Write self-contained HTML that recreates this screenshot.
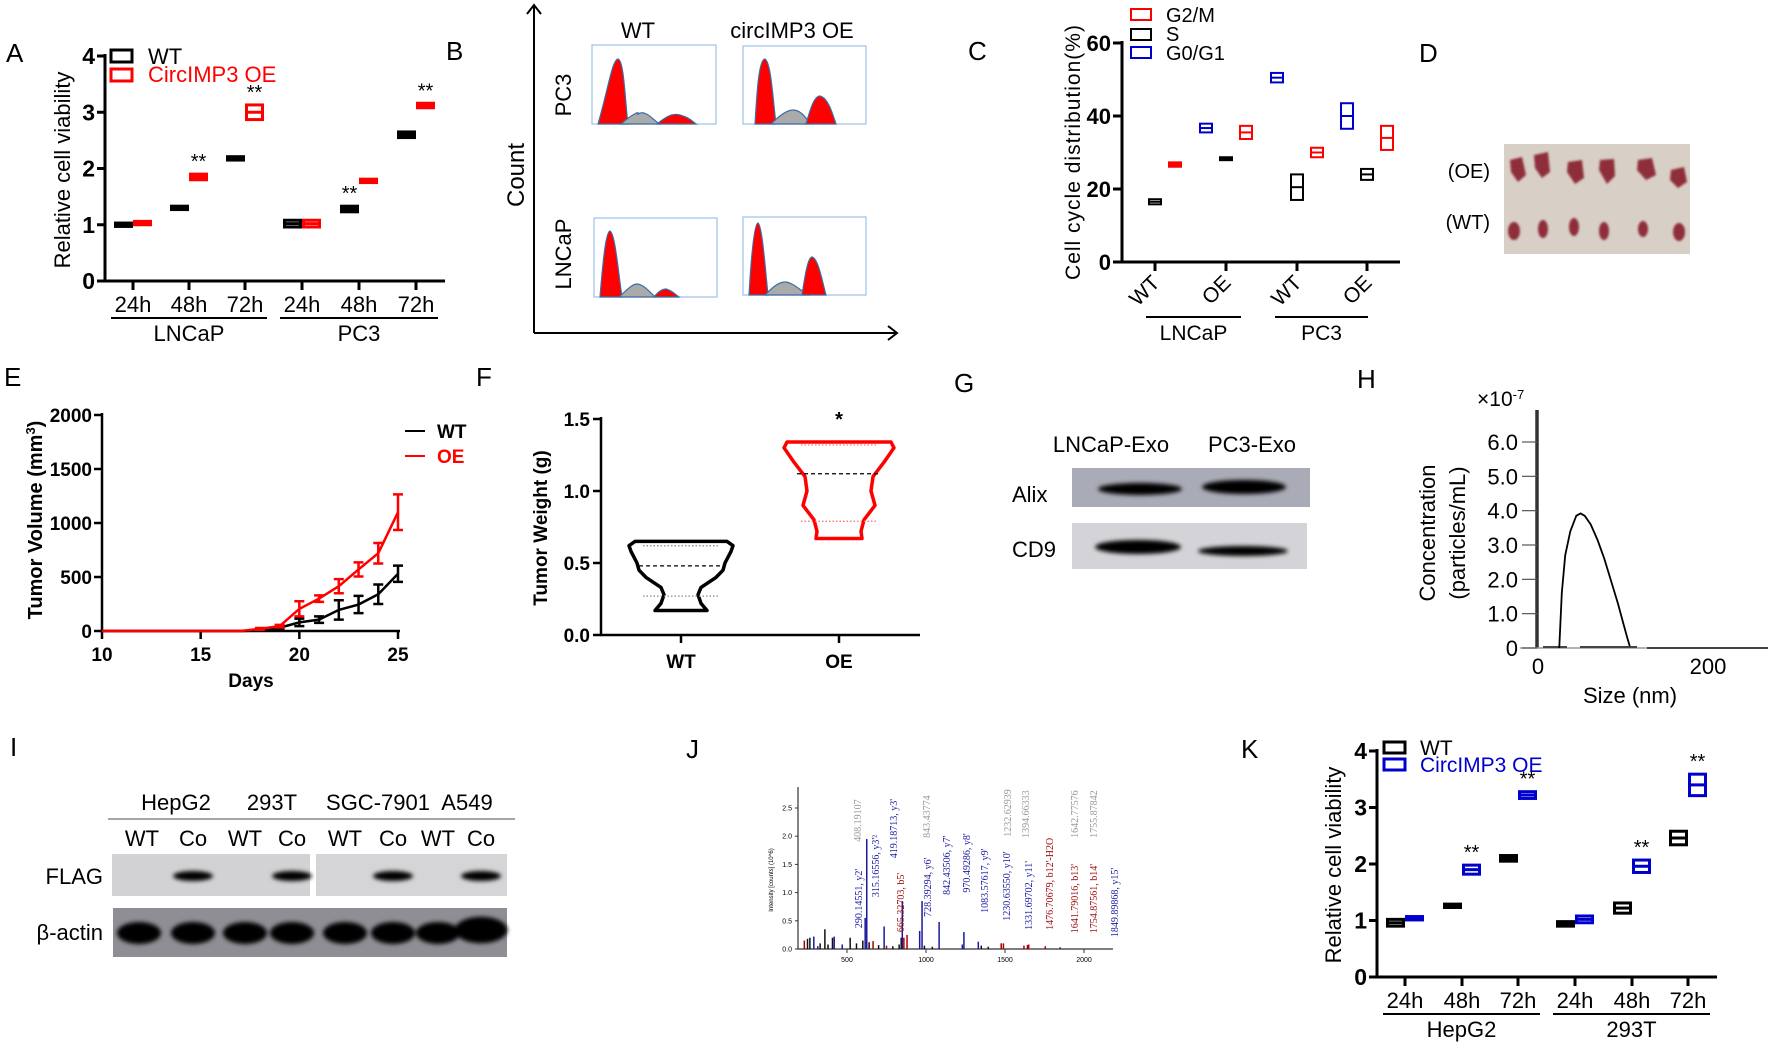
<!DOCTYPE html>
<html><head><meta charset="utf-8"><style>
html,body{margin:0;padding:0;background:#fff;}
svg{display:block;font-family:"Liberation Sans",Arial,sans-serif;}
</style></head><body>
<svg id="fig" width="1772" height="1043" viewBox="0 0 1772 1043" xmlns="http://www.w3.org/2000/svg">
<defs>
<filter id="blur2" x="-20%" y="-50%" width="140%" height="200%"><feGaussianBlur stdDeviation="2.2"/></filter>
<filter id="blur1"><feGaussianBlur stdDeviation="1"/></filter>
</defs>
<g font-size="26" fill="#000">
<text x="6" y="62">A</text>
<text x="446" y="60">B</text>
<text x="968" y="60">C</text>
<text x="1419" y="62">D</text>
<text x="4" y="386">E</text>
<text x="476" y="386">F</text>
<text x="954" y="392">G</text>
<text x="1357" y="388">H</text>
<text x="10" y="756">I</text>
<text x="686" y="758">J</text>
<text x="1241" y="758">K</text>
</g>

<g>
<text transform="translate(70,170) rotate(-90)" text-anchor="middle" font-size="22">Relative cell viability</text>
<g>
<rect x="111" y="50" width="21" height="12" fill="none" stroke="#000" stroke-width="3"/>
<text x="148" y="64" font-size="22">WT</text>
<rect x="111" y="69" width="21" height="12" fill="none" stroke="#f00" stroke-width="3"/>
<text x="148" y="82" font-size="22" fill="#f00">CircIMP3 OE</text>
</g>
<g id="aPlot"></g>
</g>

<g>
<path d="M534,333 V6 M527,14 L534,5 L541,14 M534,333 H897 M888,326 L897,333 L888,340" fill="none" stroke="#000" stroke-width="2"/>
<text transform="translate(524,175) rotate(-90)" text-anchor="middle" font-size="24">Count</text>
<text x="638" y="38" text-anchor="middle" font-size="22">WT</text>
<text x="792" y="38" text-anchor="middle" font-size="22">circIMP3 OE</text>
<text transform="translate(571,95) rotate(-90)" text-anchor="middle" font-size="22">PC3</text>
<text transform="translate(571,254) rotate(-90)" text-anchor="middle" font-size="22">LNCaP</text>
<g stroke="#3a6ea5" stroke-width="1.2">
<rect x="592" y="45" width="124" height="79" fill="none" stroke="#9cc2e5"/>
<path d="M598,124 C608,90 612,60 618,59 C624,60 625,100 628,124 Z" fill="#f00"/>
<path d="M621,124 C630,116 640,110 638,114 C644,110 650,116 659,124 Z" fill="#aaa"/>
<path d="M657,124 C668,115 675,112 683,116 C690,118 693,122 696,124 Z" fill="#f00"/>
<rect x="743" y="46" width="123" height="78" fill="none" stroke="#9cc2e5"/>
<path d="M755,124 C757,90 759,59 765,59 C771,62 773,100 776,124 Z" fill="#f00"/>
<path d="M771,124 C780,115 788,110 793,110 C800,110 805,116 810,124 Z" fill="#aaa"/>
<path d="M806,124 C810,110 814,96 820,96 C828,98 832,112 836,124 Z" fill="#f00"/>
<rect x="594" y="218" width="123" height="79" fill="none" stroke="#9cc2e5"/>
<path d="M600,297 C603,260 606,231 610,231 C615,233 618,270 622,297 Z" fill="#f00"/>
<path d="M619,297 C627,290 632,284 637,284 C643,284 650,292 655,297 Z" fill="#aaa"/>
<path d="M654,297 C658,292 662,289 666,289 C671,290 675,294 679,297 Z" fill="#f00"/>
<rect x="743" y="217" width="123" height="78" fill="none" stroke="#9cc2e5"/>
<path d="M749,295 C751,260 754,223 758,223 C762,225 765,265 768,295 Z" fill="#f00"/>
<path d="M765,295 C772,288 778,282 785,282 C792,282 800,290 808,295 Z" fill="#aaa"/>
<path d="M802,295 C805,275 808,257 812,257 C818,258 822,280 826,295 Z" fill="#f00"/>
</g>
</g>

<g>
<text transform="translate(1080,152) rotate(-90)" text-anchor="middle" font-size="21" letter-spacing="1">Cell cycle distribution(%)</text>
<g>
<rect x="1131" y="9" width="20" height="11" fill="none" stroke="#f00" stroke-width="2"/>
<text x="1166" y="22" font-size="20">G2/M</text>
<rect x="1131" y="29" width="20" height="11" fill="none" stroke="#000" stroke-width="2"/>
<text x="1166" y="41" font-size="20">S</text>
<rect x="1131" y="47" width="20" height="11" fill="none" stroke="#00c" stroke-width="2"/>
<text x="1166" y="60" font-size="20">G0/G1</text>
</g>
<g id="cPlot"></g>
</g>

<g>
<text x="1490" y="178" text-anchor="end" font-size="20">(OE)</text>
<text x="1490" y="229" text-anchor="end" font-size="20">(WT)</text>
<rect x="1504" y="144" width="186" height="110" fill="#d8cfc6"/>
<g fill="#8f2f3a" filter="url(#blur1)">
<path d="M1510,160 L1522,157 L1526,175 L1518,182 L1511,172 Z"/>
<path d="M1534,155 L1548,152 L1550,172 L1542,178 L1535,168 Z"/>
<path d="M1568,162 L1582,160 L1584,178 L1575,184 L1567,172 Z"/>
<path d="M1600,160 L1614,159 L1615,176 L1607,184 L1599,170 Z"/>
<path d="M1638,160 L1652,158 L1656,175 L1646,180 L1637,170 Z"/>
<path d="M1671,170 L1684,167 L1687,182 L1678,188 L1670,180 Z"/>
<ellipse cx="1514" cy="231" rx="6" ry="9"/><ellipse cx="1543" cy="229" rx="5" ry="9"/><ellipse cx="1574" cy="227" rx="5" ry="9"/>
<ellipse cx="1604" cy="231" rx="5" ry="9"/><ellipse cx="1643" cy="229" rx="5" ry="8"/><ellipse cx="1679" cy="232" rx="6" ry="9"/>
</g>
</g>

<g>
<text transform="translate(42,520) rotate(-90)" text-anchor="middle" font-size="20" font-weight="bold">Tumor Volume (mm<tspan baseline-shift="super" font-size="13">3</tspan>)</text>
<text x="251" y="687" text-anchor="middle" font-size="19" font-weight="bold">Days</text>
<g>
<line x1="405" y1="431" x2="425" y2="431" stroke="#000" stroke-width="2"/>
<text x="437" y="438" font-size="19" font-weight="bold">WT</text>
<line x1="405" y1="456" x2="425" y2="456" stroke="#f00" stroke-width="2"/>
<text x="437" y="463" font-size="19" font-weight="bold" fill="#f00">OE</text>
</g>
<g id="ePlot"></g>
</g>

<g>
<text transform="translate(547,528) rotate(-90)" text-anchor="middle" font-size="19" font-weight="bold">Tumor Weight (g)</text>
<g id="fPlot"></g>
</g>

<g>
<text x="1111" y="452" text-anchor="middle" font-size="22">LNCaP-Exo</text>
<text x="1252" y="452" text-anchor="middle" font-size="22">PC3-Exo</text>
<text x="1012" y="502" font-size="22">Alix</text>
<text x="1012" y="557" font-size="22">CD9</text>
<rect x="1072" y="468" width="238" height="39" fill="#a9abb6"/>
<rect x="1072" y="523" width="235" height="46" fill="#d4d4d8"/>
<g fill="#000" filter="url(#blur2)">
<ellipse cx="1140" cy="489" rx="42" ry="6"/><ellipse cx="1244" cy="487" rx="42" ry="7"/>
<ellipse cx="1138" cy="547" rx="43" ry="7"/><ellipse cx="1243" cy="551" rx="45" ry="5"/>
</g>
</g>

<g>
<text transform="translate(1435,533) rotate(-90)" text-anchor="middle" font-size="22">Concentration</text>
<text transform="translate(1465,533) rotate(-90)" text-anchor="middle" font-size="22">(particles/mL)</text>
<text x="1477" y="406" font-size="21">×10<tspan baseline-shift="super" font-size="13">-7</tspan></text>
<text x="1630" y="703" text-anchor="middle" font-size="22">Size (nm)</text>
<g id="hPlot"></g>
</g>

<g font-size="22">
<text x="176" y="810" text-anchor="middle">HepG2</text>
<text x="272" y="810" text-anchor="middle">293T</text>
<text x="378" y="810" text-anchor="middle">SGC-7901</text>
<text x="467" y="810" text-anchor="middle">A549</text>
<line x1="108" y1="819" x2="515" y2="819" stroke="#888" stroke-width="1.5"/>
<g id="iLanes"></g>
<text x="103" y="884" text-anchor="end">FLAG</text>
<text x="103" y="940" text-anchor="end">β-actin</text>
<rect x="112" y="854" width="198" height="42" fill="#d2d2d4"/>
<rect x="316" y="854" width="191" height="42" fill="#d5d5d7"/>
<rect x="113" y="908" width="394" height="49" fill="#8e8e94"/>
<g id="iBands" fill="#000" filter="url(#blur2)"></g>
</g>

<g>
<text transform="translate(773,880) rotate(-90)" text-anchor="middle" font-size="6">Intensity [counts] (10^6)</text>
<g id="jPlot"></g>
</g>

<g>
<text transform="translate(1341,865) rotate(-90)" text-anchor="middle" font-size="22">Relative cell viability</text>
<g>
<rect x="1384" y="742" width="21" height="11" fill="none" stroke="#000" stroke-width="3"/>
<text x="1420" y="755" font-size="21">WT</text>
<rect x="1384" y="759" width="21" height="11" fill="none" stroke="#00c" stroke-width="3"/>
<text x="1420" y="772" font-size="21" fill="#00c">CircIMP3 OE</text>
</g>
<g id="kPlot"></g>
</g>
</svg>
<script>
const timeLabels = ["24h","48h","72h","24h","48h","72h"];
const aWT = [1.0, 1.3, 2.18, 1.02, 1.28, 2.6];
const aWTerr = [0.03, 0.02, 0.03, 0.06, 0.05, 0.05];
const aOE = [1.03, 1.85, 3.0, 1.02, 1.78, 3.12];
const aOEerr = [0.03, 0.05, 0.13, 0.06, 0.02, 0.04];
const aGroups = ["LNCaP","PC3"];
const kWT = [0.96, 1.26, 2.1, 0.94, 1.22, 2.46];
const kWTerr = [0.06, 0.03, 0.05, 0.04, 0.09, 0.12];
const kOE = [1.04, 1.9, 3.22, 1.02, 1.96, 3.4];
const kOEerr = [0.03, 0.08, 0.06, 0.06, 0.11, 0.19];
const kGroups = ["HepG2","293T"];
const viabTicks = [0,1,2,3,4];

const cCats = ["WT","OE","WT","OE"];
const cG0G1 = [null, 36.7, 50.5, 40];
const cG0G1err = [0, 1.2, 1.3, 3.5];
const cS = [16.5, 28.3, 20.5, 24];
const cSerr = [0.7, 0.3, 3.5, 1.5];
const cG2M = [26.7, 35.5, 30, 34];
const cG2Merr = [0.6, 1.8, 1.3, 3.3];
const cTicks = [0,20,40,60];

const eDays = [10,15,16,17,18,19,20,21,22,23,24,25];
const eWT = [0,0,0,0,5,30,80,105,195,245,340,530];
const eWTerr = [0,0,0,0,0,10,35,30,90,80,90,75];
const eOE = [0,0,0,0,20,45,205,300,415,570,720,1100];
const eOEerr = [0,0,0,0,8,12,70,30,65,65,95,165];
const eYTicks = [0,500,1000,1500,2000];
const eXTicks = [10,15,20,25];

const fYTicks = [0.0,0.5,1.0,1.5];
const fWTvals = [0.65,0.62,0.58,0.5,0.45,0.4,0.33,0.28,0.22,0.17];
const fWTwidth = [46,52,50,44,42,35,20,17,20,26];
const fOEvals = [1.34,1.3,1.2,1.1,1.0,0.9,0.8,0.72,0.67];
const fOEwidth = [52,55,45,34,32,36,25,22,23];
const fStats = {WT:[0.62,0.48,0.27], OE:[1.32,1.12,0.79]};

const hSize = [25,28,32,38,45,50,55,62,70,78,86,94,100,105,108];
const hConc = [0,1.6,2.7,3.4,3.85,3.92,3.85,3.6,3.15,2.6,1.95,1.3,0.75,0.3,0.05];
const hTicks = [0,1,2,3,4,5,6];

const jMz = [230,250,265,290,315,330,360,380,408,419,470,520,560,600,615,625,640,665,700,735,750,790,830,843,850,860,880,960,975,990,1040,1083,1230,1240,1331,1350,1394,1476,1490,1620,1642,1650,1755,1849];
const jInt = [0.15,0.18,0.2,0.22,0.05,0.1,0.35,0.08,0.2,0.22,0.08,0.2,0.1,0.15,0.55,1.95,0.12,0.14,0.07,0.4,0.06,0.05,0.08,0.2,0.85,0.2,0.25,0.32,0.85,0.06,0.04,0.48,0.08,0.3,0.13,0.06,0.04,0.1,0.1,0.06,0.07,0.08,0.05,0.03];
const jCol = ["r","k","k","b","b","k","k","k","k","b","b","k","k","k","b","b","k","r","k","b","r","k","k","k","b","r","r","b","b","k","k","b","b","b","b","k","k","r","r","r","r","r","r","b"];
const jLabels = ["408.19107","290.14551, y2'","315.16556, y3'²","419.18713, y3'","665.32703, b5'","843.43774","728.39294, y6'","842.43506, y7'","970.49286, y8'","1083.57617, y9'","1232.62939","1230.63550, y10'","1394.66333","1331.69702, y11'","1476.70679, b12'-H2O","1642.77576","1641.79016, b13'","1755.87842","1754.87561, b14'","1849.89868, y15'"];
const jLabelMz = [563,569,677,791,835,1000,1006,1126,1253,1367,1513,1506,1627,1646,1779,1937,1937,2057,2057,2190];
const jLabelBase = [1.9,0.37,0.92,1.61,0.3,1.97,0.57,0.96,1.0,0.64,1.99,0.5,1.97,0.34,0.34,1.97,0.28,1.97,0.28,0.21];
const jLabelCol = ["g","b","b","b","r","g","b","b","b","b","g","b","g","b","r","g","r","g","r","b"];
const jXTicks = [500,1000,1500,2000];
const jYTicks = [0.0,0.5,1.0,1.5,2.0,2.5];

const iLanes = ["WT","Co","WT","Co","WT","Co","WT","Co"];
const iLaneX = [142,193,245,292,345,393,438,481];
const iFlag = [0,1,0,1,0,1,0,1];
const iActin = [1,1,1,1,1,1,1,1.2];

const NS = "http://www.w3.org/2000/svg";
function mk(parent, tag, attrs, txt) {
  const el = document.createElementNS(NS, tag);
  for (const k in attrs) el.setAttribute(k, attrs[k]);
  if (txt !== undefined) el.textContent = txt;
  parent.appendChild(el);
  return el;
}

function viability(g, cfg) {
  const y = v => cfg.y0 - v * (cfg.y0 - cfg.y4) / 4;
  const ax = mk(g, "path", {d:`M${cfg.ax},${cfg.y4-2} V${cfg.y0} H${cfg.axEnd}`, fill:"none", stroke:"#000", "stroke-width":3});
  
  
  viabTicks.forEach(t => {
    const tk = mk(g, "line", {x1:cfg.ax-8, x2:cfg.ax, y1:y(t), y2:y(t), stroke:"#000", "stroke-width":3});
    
    
    const tl = mk(g, "text", {x:cfg.ax-10, y:y(t)+8, "text-anchor":"end", "font-size":23, "font-weight":"bold"}, t);
    
    
  });
  cfg.ticks.forEach((tx, i) => {
    const tk = mk(g, "line", {x1:tx, x2:tx, y1:cfg.y0, y2:cfg.y0+9, stroke:"#000", "stroke-width":3});
    
    
    const tl = mk(g, "text", {x:tx, y:cfg.y0+31, "text-anchor":"middle", "font-size":22}, timeLabels[i]);
    
    
    [[cfg.wt, cfg.wtErr, tx-19, "#000"], [cfg.oe, cfg.oeErr, tx, cfg.color]].forEach(([arr, err, x0, col]) => {
      const v = arr[i], e = Math.max(err[i], 0.03);
      const top = y(v + e), h = y(v - e) - top;
      const r = mk(g, "rect", {x:x0+1.5, y:top, width:16, height:h, fill: h < 6 ? col : "none", stroke:col, "stroke-width":3});
      
      
      if (h >= 6) {
        const m = mk(g, "line", {x1:x0+1.5, x2:x0+17.5, y1:y(v), y2:y(v), stroke:col, "stroke-width":3});
        
        
      }
    });
  });
  cfg.stars.forEach(([i, s]) => {
    const arr = s === "oe" ? cfg.oe : cfg.wt, err = s === "oe" ? cfg.oeErr : cfg.wtErr;
    const x = s === "oe" ? cfg.ticks[i] + 9.5 : cfg.ticks[i] - 9.5;
    const st = mk(g, "text", {x:x, y:y(arr[i] + err[i]) - 6, "text-anchor":"middle", "font-size":20}, "**");
    
    
  });
  cfg.groups.forEach((name, gi) => {
    const x1 = cfg.ticks[gi*3] - 22, x2 = cfg.ticks[gi*3+2] + 22;
    const ln = mk(g, "line", {x1:x1, x2:x2, y1:cfg.y0+37, y2:cfg.y0+37, stroke:"#000", "stroke-width":2});
    
    
    const tl = mk(g, "text", {x:(x1+x2)/2, y:cfg.y0+60, "text-anchor":"middle", "font-size":22}, name);
    
    
  });
}
viability(document.getElementById("aPlot"), {ax:105, axEnd:445, y0:281, y4:56, ticks:[133,189,245,302,359,416], wt:aWT, wtErr:aWTerr, oe:aOE, oeErr:aOEerr, color:"#f00", groups:aGroups, stars:[[1,"oe"],[2,"oe"],[4,"wt"],[5,"oe"]]});
viability(document.getElementById("kPlot"), {ax:1377, axEnd:1717, y0:977, y4:751, ticks:[1405,1462,1518,1575,1632,1688], wt:kWT, wtErr:kWTerr, oe:kOE, oeErr:kOEerr, color:"#00c", groups:kGroups, stars:[[1,"oe"],[2,"oe"],[4,"oe"],[5,"oe"]]});

(function(){
  const g = document.getElementById("cPlot");
  const y0 = 262, y60 = 43, y = v => y0 - v*(y0-y60)/60;
  const ticks = [1155,1226,1297,1367];
  const ax = mk(g, "path", {d:`M1122,${y60-2} V${y0} H1400`, fill:"none", stroke:"#000", "stroke-width":3});
  
  
  cTicks.forEach(t => {
    const tk = mk(g, "line", {x1:1113, x2:1122, y1:y(t), y2:y(t), stroke:"#000", "stroke-width":3});
    
    
    const tl = mk(g, "text", {x:1111, y:y(t)+8, "text-anchor":"end", "font-size":22, "font-weight":"bold"}, t);
    
    
  });
  ticks.forEach((tx, i) => {
    const tk = mk(g, "line", {x1:tx, x2:tx, y1:y0, y2:y0+9, stroke:"#000", "stroke-width":3});
    
    
    const tl = mk(g, "text", {x:tx+6, y:y0+22, "text-anchor":"end", "font-size":21, transform:`rotate(-45 ${tx+6} ${y0+22})`}, cCats[i]);
    
    
    [[cG0G1, cG0G1err, tx-20, "#00c"], [cS, cSerr, tx, "#000"], [cG2M, cG2Merr, tx+20, "#f00"]].forEach(([arr, err, cx, col]) => {
      if (arr[i] === null) return;
      const v = arr[i], e = Math.max(err[i], 0.4);
      const top = y(v+e), h = y(v-e) - top;
      const r = mk(g, "rect", {x:cx-6, y:top, width:12, height:h, fill: h < 5 ? col : "none", stroke:col, "stroke-width":2});
      
      
      if (h >= 5) {
        const m = mk(g, "line", {x1:cx-6, x2:cx+6, y1:y(v), y2:y(v), stroke:col, "stroke-width":2});
        
        
      }
    });
  });
  [["LNCaP",1146,1241],["PC3",1275,1368]].forEach(([n,x1,x2]) => {
    const ln = mk(g, "line", {x1:x1, x2:x2, y1:317, y2:317, stroke:"#000", "stroke-width":2});
    
    
    const tl = mk(g, "text", {x:(x1+x2)/2, y:340, "text-anchor":"middle", "font-size":21}, n);
    
    
  });
})();

(function(){
  const g = document.getElementById("ePlot");
  const x = d => 102 + (d-10)*(398-102)/15;
  const y = v => 631 - v*(631-415)/2000;
  const ax = mk(g, "path", {d:`M102,413 V631 H400`, fill:"none", stroke:"#000", "stroke-width":2.5});
  
  
  eYTicks.forEach(t => {
    const tk = mk(g, "line", {x1:94, x2:102, y1:y(t), y2:y(t), stroke:"#000", "stroke-width":2.5});
    
    
    const tl = mk(g, "text", {x:92, y:y(t)+7, "text-anchor":"end", "font-size":19, "font-weight":"bold"}, t);
    
    
  });
  eXTicks.forEach(t => {
    const tk = mk(g, "line", {x1:x(t), x2:x(t), y1:631, y2:639, stroke:"#000", "stroke-width":2.5});
    
    
    const tl = mk(g, "text", {x:x(t), y:661, "text-anchor":"middle", "font-size":19, "font-weight":"bold"}, t);
    
    
  });
  [[eWT, eWTerr, "#000", "e-wt-line"], [eOE, eOEerr, "#f00", "e-oe-line"]].forEach(([vals, errs, col, nm]) => {
    const p = mk(g, "polyline", {points: eDays.map((d,i)=>`${x(d)},${y(vals[i])}`).join(" "), fill:"none", stroke:col, "stroke-width":2.5});
    
    
    eDays.forEach((d,i) => {
      if (!errs[i]) return;
      const xx = x(d), a = y(vals[i]+errs[i]), b = y(vals[i]-errs[i]);
      const eb = mk(g, "path", {d:`M${xx},${a} V${b} M${xx-5},${a} H${xx+5} M${xx-5},${b} H${xx+5}`, fill:"none", stroke:col, "stroke-width":2.5});
      
      
    });
  });
})();

(function(){
  const g = document.getElementById("fPlot");
  const y = v => 635 - v*(635-419)/1.5;
  const ax = mk(g, "path", {d:`M601,417 V635 H920`, fill:"none", stroke:"#000", "stroke-width":2.5});
  
  
  fYTicks.forEach(t => {
    const tk = mk(g, "line", {x1:593, x2:601, y1:y(t), y2:y(t), stroke:"#000", "stroke-width":2.5});
    
    
    const tl = mk(g, "text", {x:590, y:y(t)+7, "text-anchor":"end", "font-size":19, "font-weight":"bold"}, t.toFixed(1));
    
    
  });
  [["WT",681,fWTvals,fWTwidth,"#000"],["OE",839,fOEvals,fOEwidth,"#f00"]].forEach(([nm,cx,vals,w,col]) => {
    const tk = mk(g, "line", {x1:cx, x2:cx, y1:635, y2:643, stroke:"#000", "stroke-width":2.5});
    
    
    const tl = mk(g, "text", {x:cx, y:668, "text-anchor":"middle", "font-size":19, "font-weight":"bold"}, nm);
    
    
    const right = vals.map((v,i)=>`${cx+w[i]},${y(v)}`), left = vals.map((v,i)=>`${cx-w[i]},${y(v)}`).reverse();
    const vp = mk(g, "polygon", {points: right.concat(left).join(" "), fill:"none", stroke:col, "stroke-width":3.5, "stroke-linejoin":"round"});
    
    
    fStats[nm].forEach((s, k) => {
      const hw = k === 1 ? 42 : 38;
      const sl = mk(g, "line", {x1:cx-hw, x2:cx+hw, y1:y(s), y2:y(s), stroke: k===1 ? "#000" : (nm==="OE" ? "#f66" : "#888"), "stroke-width":1.2, "stroke-dasharray": k===1 ? "4,3" : "1.5,2"});
      
      
    });
  });
  const st = mk(g, "text", {x:839, y:426, "text-anchor":"middle", "font-size":20, "font-weight":"bold"}, "*");
  
  
})();

(function(){
  const g = document.getElementById("hPlot");
  const x = s => 1538 + s*(1708-1538)/200;
  const y = v => 648 - v*(648-442)/6;
  const ax = mk(g, "path", {d:`M1537,410 V648`, fill:"none", stroke:"#333", "stroke-width":3.5});
  
  
  const xa = mk(g, "line", {x1:1520, x2:1768, y1:648, y2:648, stroke:"#999", "stroke-width":1.5});
  
  
  hTicks.forEach(t => {
    const tk = mk(g, "line", {x1:1522, x2:1537, y1:y(t), y2:y(t), stroke:"#555", "stroke-width":1.2});
    
    
    const tl = mk(g, "text", {x:1518, y:y(t)+8, "text-anchor":"end", "font-size":22}, t === 0 ? "0" : t.toFixed(1));
    
    
  });
  [0,200].forEach(t => {
    const tl = mk(g, "text", {x:x(t), y:674, "text-anchor":"middle", "font-size":22}, t);
    
    
  });
  const base = mk(g, "path", {d:`M1543,647 H1567 M1580,647 H1637 M1647,648 H1768`, stroke:"#444", "stroke-width":2, fill:"none"});
  
  
  const cv = mk(g, "polyline", {points: hSize.map((s,i)=>`${x(s)},${y(hConc[i])}`).join(" "), fill:"none", stroke:"#000", "stroke-width":1.8, "stroke-linejoin":"round"});
  
  
})();

(function(){
  const lg = document.getElementById("iLanes"), bg = document.getElementById("iBands");
  iLanes.forEach((l,i) => {
    const t = mk(lg, "text", {x:iLaneX[i], y:846, "text-anchor":"middle", "font-size":22}, l);
    
    
    if (iFlag[i]) {
      const b = mk(bg, "ellipse", {cx:iLaneX[i], cy:876, rx:20*iFlag[i], ry:5});
      
      
    }
    const a = mk(bg, "ellipse", {cx:iLaneX[i]+(i===0?-3:0), cy:933-(iActin[i]-1)*15, rx:22*iActin[i], ry:11*iActin[i]});
    
    
  });
})();

(function(){
  const g = document.getElementById("jPlot");
  const x = m => 847 + (m-500)*(1084-847)/1500;
  const y = v => 949 - v*(949-808)/2.5;
  const ax = mk(g, "path", {d:`M798,787 V949 H1113`, fill:"none", stroke:"#333", "stroke-width":1.2});
  
  
  jYTicks.forEach(t => {
    const tk = mk(g, "line", {x1:795, x2:798, y1:y(t), y2:y(t), stroke:"#333"});
    
    
    const tl = mk(g, "text", {x:792, y:y(t)+2.5, "text-anchor":"end", "font-size":7}, t.toFixed(1));
    
    
  });
  jXTicks.forEach(t => {
    const tk = mk(g, "line", {x1:x(t), x2:x(t), y1:949, y2:953, stroke:"#333"});
    
    
    const tl = mk(g, "text", {x:x(t), y:962, "text-anchor":"middle", "font-size":7}, t);
    
    
  });
  const cols = {r:"#a00", k:"#111", b:"#1a1a9a", g:"#999"};
  jMz.forEach((m,i) => {
    const p = mk(g, "line", {x1:x(m), x2:x(m), y1:949, y2:y(jInt[i]), stroke:cols[jCol[i]], "stroke-width":1.5});
    
    
  });
  jLabels.forEach((l,i) => {
    const xx = x(jLabelMz[i]) + 4, yy = y(jLabelBase[i]);
    const t = mk(g, "text", {x:xx, y:yy, "font-size":10, "font-family":'"Liberation Serif", serif', fill:{g:"#999",b:"#1a1aa0",r:"#a01010"}[jLabelCol[i]], transform:`rotate(-90 ${xx} ${yy})`}, l);
    
    
  });
})();
</script>
</body></html>
